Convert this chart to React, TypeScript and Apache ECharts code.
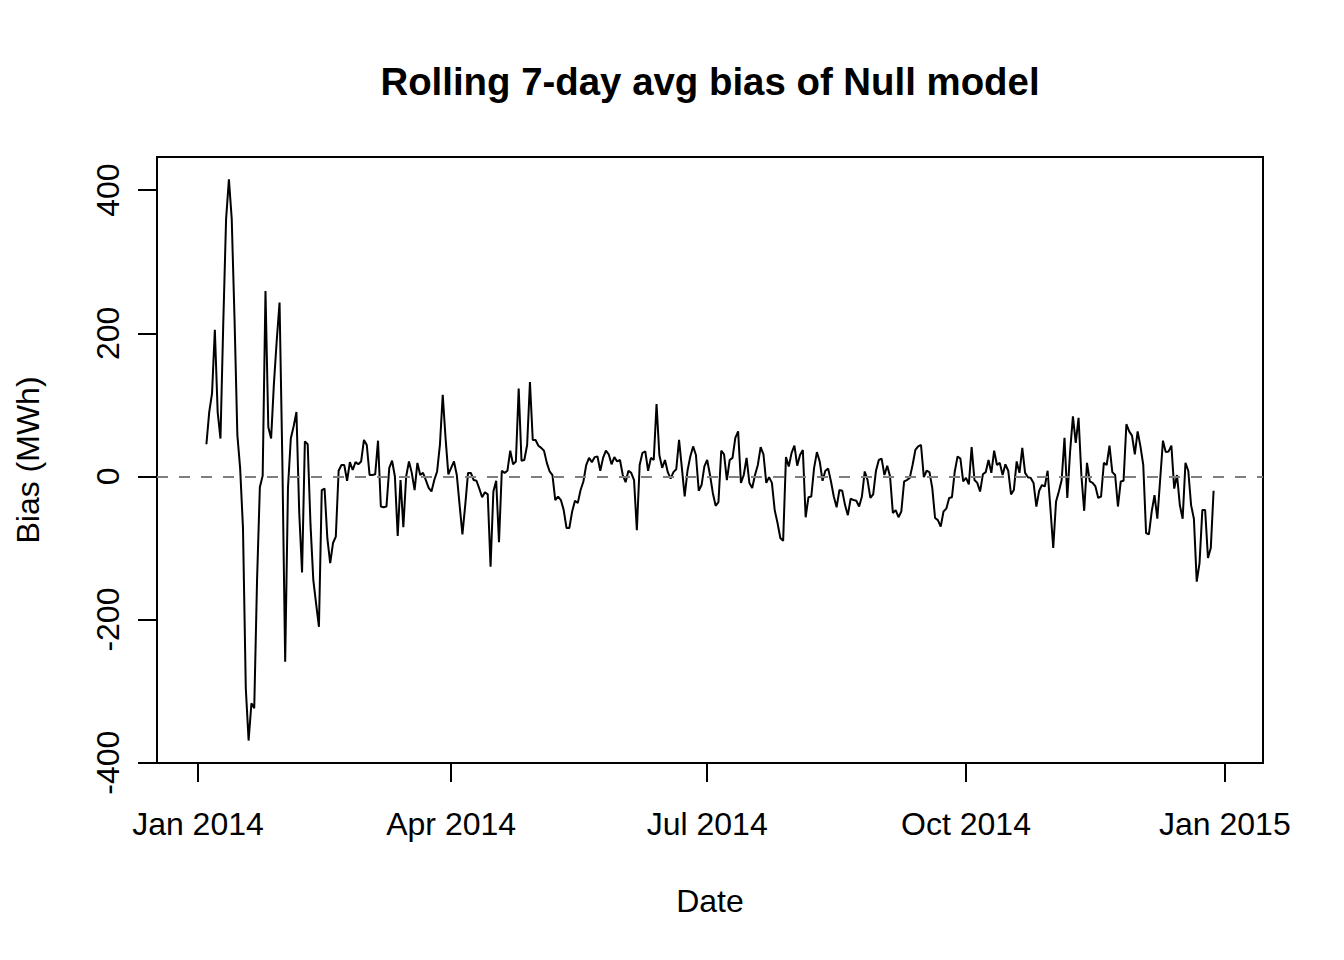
import React, { useEffect, useRef } from 'react';
import * as echarts from 'echarts';

// Day offset (from 1 Jan 2014) of the first non-missing rolling value
const firstDay = 3;
// Full data span in days (1 Jan 2014 .. 31 Dec 2014)
const spanStart = 0;
const spanEnd = 364;

// Rolling 7-day average bias (MWh), one value per day from 4 Jan 2014
const biasValues = [
  45, 90, 116, 205, 90, 53, 215, 360, 415, 360, 220, 58, 11, -72, -296, -369, -317, -324, -145, -15, 1,
  259, 69, 53, 130, 190, 243, 20, -259, -15, 53, 70, 90, -51, -134, 49, 45, -67, -145, -178, -210, -19, -17, -87, -121, -93,
  -84, 8, 16, 16, -6, 20, 9, 20, 17, 21, 51, 44, 2, 2, 3, 50, -42, -43, -42, 12, 22, 0, -83, -5, -71, 0, 21, 5, -19, 19, 2,
  5, -5, -16, -21, -5, 7, 44, 114, 54, 3, 12, 21, 2, -40, -81, -40, 5, 5, -5, -6, -17, -29, -22, -25, -126, -21, -6, -92, 8, 5, 8, 36, 17, 21,
  123, 22, 23, 44, 132, 51, 51, 43, 40, 36, 19, 7, 2, -33, -28, -33, -47, -72, -72, -49, -34, -37, -19, -7, 16, 26, 20, 27, 28, 8, 26, 36,
  31, 17, 27, 21, 23, 2, -8, 8, 5, -5, -75, 16, 33, 35, 8, 26, 23, 101, 30, 12, 23, 6, -3, 6, 10, 51, 12, -28, 8, 28, 42,
  30, -20, -12, 14, 23, 2, -23, -41, -36, 36, 31, -5, 23, 26, 54, 63, -9, 2, 26, -9, -16, 2, 16, 41, 31, -9, -1, -9, -47, -65, -86, -90,
  27, 14, 33, 43, 15, 30, 37, -57, -29, -28, 12, 34, 21, -6, 8, 11, -7, -28, -43, -19, -20, -40, -54, -31, -33, -34, -42, -28, 7, -5, -30, -25,
  8, 23, 25, 2, 15, 0, -51, -47, -57, -49, -7, -5, -2, 16, 37, 42, 44, -1, 8, 6, -16, -58, -61, -70, -49, -45, -30, -29, 7, 28, 25,
  -7, -2, -11, 41, -5, -9, -21, 3, 6, 23, 5, 36, 16, 19, 2, 17, 8, -25, -19, 21, 5, 40, 5, -1, -2, -9, -42, -20, -12, -14, 8,
  -45, -100, -35, -21, -5, 54, -30, 35, 84, 47, 82, 2, -48, 19, -7, -9, -14, -30, -28, 19, 16, 43, 6, 2, -42, -7, -6, 73, 63, 57, 31,
  63, 42, 16, -79, -81, -49, -26, -59, -5, 50, 34, 35, 43, -17, 2, -40, -59, 19, 8, -40, -59, -147, -121, -47, -47, -114, -100, -20,
];

const xTickDays = [0, 90, 181, 273, 365];
const xTickLabels = ['Jan 2014', 'Apr 2014', 'Jul 2014', 'Oct 2014', 'Jan 2015'];
const yTickValues = [-400, -200, 0, 200, 400];
const yTickLabels = ['-400', '-200', '0', '200', '400'];

const titleText = 'Rolling 7-day avg bias of Null model';
const xName = 'Date';
const yName = 'Bias (MWh)';

const FONT = '"Liberation Sans", Arial, Helvetica, sans-serif';

export default function App() {
  const ref = useRef<HTMLDivElement>(null);

  useEffect(() => {
    if (!ref.current) return;
    const chart = echarts.init(ref.current, undefined, { renderer: 'svg' });

    const points = biasValues.map((v, i) => [firstDay + i, v]);
    const xPad = (spanEnd - spanStart) * 0.04;
    const yMinData = Math.min(...biasValues);
    const yMaxData = Math.max(...biasValues);
    const yPad = (yMaxData - yMinData) * 0.04;

    const gridLeft = 157;
    const gridTop = 157;
    const gridRight = 81;
    const gridBottom = 197;

    chart.setOption({
      animation: false,
      backgroundColor: '#ffffff',
      grid: {
        left: gridLeft,
        top: gridTop,
        right: gridRight,
        bottom: gridBottom,
        show: true,
        borderColor: '#000000',
        borderWidth: 2,
        backgroundColor: 'transparent',
        containLabel: false,
      },
      graphic: [
        {
          type: 'text',
          x: gridLeft + (1344 - gridLeft - gridRight) / 2,
          y: 81,
          style: {
            text: titleText,
            font: `bold 38.4px ${FONT}`,
            fill: '#000000',
            align: 'center',
            verticalAlign: 'middle',
            textAlign: 'center',
            textVerticalAlign: 'middle',
          },
        },
      ],
      xAxis: {
        type: 'value',
        min: spanStart - xPad,
        max: spanEnd + xPad,
        splitLine: { show: false },
        axisLine: { show: false, onZero: false },
        axisTick: {
          show: true,
          length: 19,
          customValues: xTickDays,
          lineStyle: { color: '#000000', width: 2 },
        },
        axisLabel: {
          customValues: xTickDays,
          formatter: (v: number) => {
            const i = xTickDays.indexOf(Math.round(v));
            return i >= 0 ? xTickLabels[i] : '';
          },
          fontSize: 32,
          fontFamily: FONT,
          color: '#000000',
          margin: 45,
        },
        name: xName,
        nameLocation: 'middle',
        nameGap: 122,
        nameTextStyle: { fontSize: 32, fontFamily: FONT, color: '#000000' },
      },
      yAxis: {
        type: 'value',
        min: yMinData - yPad,
        max: yMaxData + yPad,
        splitLine: { show: false },
        axisLine: { show: false, onZero: false },
        axisTick: {
          show: true,
          length: 19,
          customValues: yTickValues,
          lineStyle: { color: '#000000', width: 2 },
        },
        axisLabel: {
          customValues: yTickValues,
          formatter: (v: number) => {
            const i = yTickValues.indexOf(Math.round(v));
            return i >= 0 ? yTickLabels[i] : '';
          },
          rotate: 90,
          fontSize: 32,
          fontFamily: FONT,
          color: '#000000',
          margin: 33,
        },
        name: yName,
        nameLocation: 'middle',
        nameGap: 113,
        nameTextStyle: { fontSize: 32, fontFamily: FONT, color: '#000000' },
      },
      series: [
        {
          type: 'line',
          data: points,
          showSymbol: false,
          symbol: 'none',
          lineStyle: { color: '#000000', width: 2 },
          silent: true,
          markLine: {
            silent: true,
            symbol: ['none', 'none'],
            label: { show: false },
            lineStyle: { color: '#7f7f7f', width: 2, type: [11, 11] },
            data: [{ yAxis: 0 }],
          },
        },
      ],
    });

    return () => chart.dispose();
  }, []);

  return (
    <div
      ref={ref}
      style={{ position: 'fixed', left: 0, top: 0, width: 1344, height: 960, background: '#ffffff' }}
    />
  );
}
